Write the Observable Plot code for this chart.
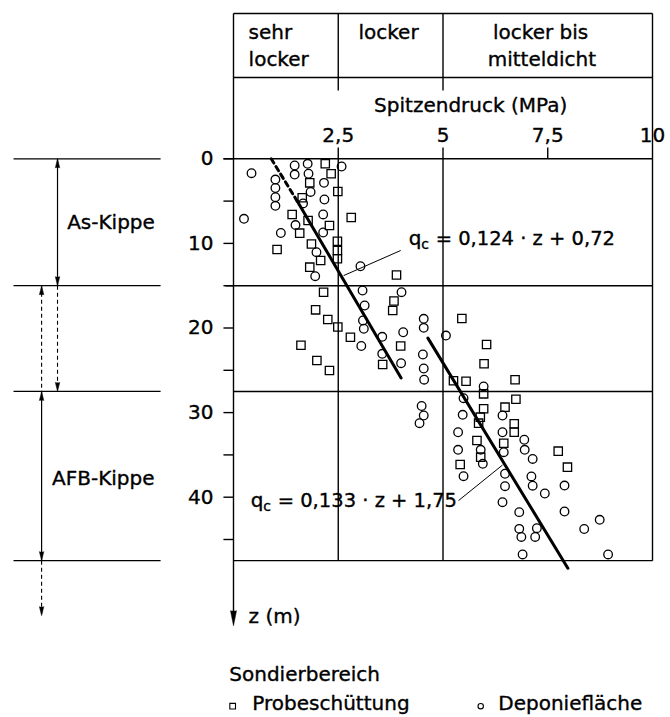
<!DOCTYPE html>
<html><head><meta charset="utf-8">
<script src="https://cdn.jsdelivr.net/npm/d3@7"></script>
<script src="https://cdn.jsdelivr.net/npm/@observablehq/plot@0.6"></script>
<style>body{margin:0;background:#fff}</style>
</head><body><div id="chart"></div>
<script>
// ---- data: q = Spitzendruck (MPa), z = Tiefe (m) ----
const probeschuettung = [
 [2.19,0.59],[2.33,1.77],[1.82,2.84],[2.49,3.87],[1.64,4.61],[1.40,6.58],[1.78,7.29],[2.29,7.88],[1.58,8.79],[2.81,6.94],
 [1.04,10.72],[1.86,10.07],[2.48,9.74],[2.48,10.84],[2.48,11.82],[2.08,12.02],[1.82,12.81],[3.89,13.74],[2.15,15.77],[3.83,16.81],
 [3.80,17.93],[1.96,17.85],[2.25,19.0],[2.49,19.88],[2.79,21.09],[1.61,22.04],[3.99,22.13],[1.99,23.84],[3.56,24.31],[2.29,25.02],
 [5.25,26.24],[5.55,26.29],[5.45,18.88],[6.04,21.95],[5.98,24.23],[5.97,27.78],[6.72,26.12],[6.74,28.42],[5.97,29.55],[6.48,29.36],
 [5.89,30.54],[5.85,31.25],[6.70,31.32],[6.70,32.32],[5.81,33.30],[6.45,33.62],[5.90,35.27],[5.41,36.13],[7.75,34.56],[7.97,36.45]
];
const deponieflaeche = [
 [0.43,1.70],[0.25,7.09],[1.0,2.45],[1.0,3.45],[1.0,4.54],[1.0,5.56],[1.46,0.79],[1.46,1.86],[1.77,0.59],[1.79,1.77],
 [1.84,3.92],[1.66,5.28],[2.16,2.84],[2.17,4.81],[2.14,6.58],[2.14,8.71],[1.48,7.83],[1.13,8.77],[2.58,0.91],[1.98,11.04],
 [1.95,13.88],[3.03,12.7],[3.08,15.57],[4.01,15.77],[3.13,17.34],[3.09,19.11],[3.11,20.09],[4.54,18.91],[4.54,19.98],[4.05,20.5],
 [3.55,21.04],[5.07,20.89],[3.05,22.13],[4.52,23.13],[3.55,23.05],[4.0,24.16],[4.54,24.79],[4.55,26.11],[4.49,29.22],[4.54,30.34],
 [4.44,31.25],[5.97,26.91],[5.49,28.3],[5.47,30.26],[6.42,30.34],[6.42,32.32],[5.36,32.32],[6.94,33.21],[6.95,34.4],[5.90,34.4],
 [5.36,34.4],[6.45,34.68],[7.14,35.48],[5.95,36.05],[5.49,37.52],[6.48,37.23],[7.11,37.55],[7.14,38.64],[7.90,38.62],[6.48,38.7],
 [7.43,39.56],[6.42,40.59],[7.90,41.69],[6.82,41.77],[6.82,43.74],[6.87,44.7],[7.24,43.66],[7.20,44.7],[8.37,43.76],[8.74,42.67],
 [6.90,46.77],[8.94,46.77]
];
// regression lines (q, z)
const fit1Dashed = [[0.90,0],[1.52,5.0]];
const fit1Solid = [[1.52,5.0],[4.00,25.9]];
const fit2Solid = [[4.64,21.2],[7.98,48.4]];
const fit1Label = "= 0,124 · z + 0,72";
const fit2Label = "= 0,133 · z + 1,75";
// density classes (header)
const classBounds = [0, 2.5, 5, 10];
const classLabels = [["sehr","locker"],["locker"],["locker bis","mitteldicht"]];
// axis ticks
const xTicks = [2.5, 5, 7.5, 10];
const xTickLabels = ["2,5","5","7,5","10"];
const yTicks = [0, 10, 20, 30, 40];
const yMinorTicks = [5, 15, 25, 35, 45];
// layers (left annotation)
const layerBounds = [0, 15, 27.5, 47.5];
const layerLabels = ["As-Kippe", "AFB-Kippe"];
const legendTitle = "Sondierbereich";
const seriesNames = ["Probeschüttung", "Deponiefläche"];

// ---- layout constants (in data units of the depth / pressure scales) ----
const HT = -17.18, HM = -9.61, HDIV = -8.07, TOPTICK = -1.34, ZEND = 55.2;
const FONT = "DejaVu Sans";
const TXT = {stroke:"black", strokeWidth:0.35, fill:"black"};

const sq = probeschuettung.map(([q,z]) => ({q, z}));
const ci = deponieflaeche.map(([q,z]) => ({q, z}));
const seg = (a, b) => ({x1:a[0], y1:a[1], x2:b[0], y2:b[1]});

const frame = [
  seg([0,HT],[10,HT]), seg([0,HM],[10,HM]),
  seg([2.5,HT],[2.5,HDIV]), seg([5,HT],[5,HDIV]),
  seg([10,HT],[10,layerBounds[3]]), seg([0,HT],[0,ZEND-1.2]),
  seg([2.5,TOPTICK],[2.5,layerBounds[3]]), seg([5,TOPTICK],[5,layerBounds[3]]),
  seg([7.5,TOPTICK],[7.5,0]),
  seg([-0.24,0],[10,0]), seg([-0.19,15],[10,15]), seg([0,27.5],[10,27.5]), seg([0,47.5],[10,47.5]),
  ...yTicks.concat(yMinorTicks).map(t => seg([-0.24,t],[0,t]))
];
const leftLines = layerBounds.map(b => seg([-5.25,b],[-1.74,b]));
const A1 = -4.20, A2 = -4.58;
const solidShafts = [seg([A1,0],[A1,15]), seg([A2,27.5],[A2,47.5])];
const dashedShafts = [seg([A1,15],[A1,27.5]), seg([A2,15],[A2,27.5]), seg([A2,47.5],[A2,54.0])];
const heads = [
  {q:A1,z:0,r:0},{q:A1,z:15,r:180},{q:A1,z:27.5,r:180},
  {q:A2,z:15,r:0},{q:A2,z:27.5,r:0},{q:A2,z:47.5,r:180},{q:A2,z:54.0,r:180}
];

const headerStart = [
  {q:0.36, z:-14.18, t:classLabels[0][0]},
  {q:0.36, z:-11.0, t:classLabels[0][1]}
];
const headerMiddle = [
  {q:(classBounds[1]+classBounds[2])/2 - 0.05, z:-14.18, t:classLabels[1][0]},
  {q:7.33, z:-14.18, t:classLabels[2][0]},
  {q:7.36, z:-11.0, t:classLabels[2][1]},
  {q:5.66, z:-5.51, t:"Spitzendruck (MPa)"},
  ...xTicks.map((v,i) => ({q:v, z:-1.96, t:xTickLabels[i]}))
];

const chart = Plot.plot({
  width: 670, height: 717,
  marginTop: 0, marginRight: 0, marginBottom: 0, marginLeft: 0,
  x: {domain: [0, 10], range: [233, 652], axis: null},
  y: {domain: [0, 40], range: [158.3, 496.7], axis: null},
  style: {fontFamily: FONT, fontSize: "20px", background: "white", color: "black", overflow: "visible"},
  marks: [
    Plot.link(frame, {x1:"x1", y1:"y1", x2:"x2", y2:"y2", stroke:"black", strokeWidth:1.4}),
    Plot.link(leftLines, {x1:"x1", y1:"y1", x2:"x2", y2:"y2", stroke:"black", strokeWidth:1.2}),
    Plot.link(solidShafts, {x1:"x1", y1:"y1", x2:"x2", y2:"y2", stroke:"black", strokeWidth:1.2}),
    Plot.link(dashedShafts, {x1:"x1", y1:"y1", x2:"x2", y2:"y2", stroke:"black", strokeWidth:1.1, strokeDasharray:"4,3"}),
    Plot.vector(heads, {x:"q", y:"z", rotate:"r", length:9, r:2.2, shape:"spike", anchor:"end", fill:"black", stroke:"black", strokeWidth:0.5}),
    Plot.vector([{q:0, z:ZEND}], {x:"q", y:"z", rotate:180, length:15, r:3, shape:"spike", anchor:"end", fill:"black", stroke:"black", strokeWidth:0.5}),
    // header & axis labels
    Plot.text(headerStart, {x:"q", y:"z", text:"t", textAnchor:"start", lineAnchor:"bottom", fontSize:20, ...TXT}),
    Plot.text(headerMiddle, {x:"q", y:"z", text:"t", textAnchor:"middle", lineAnchor:"bottom", fontSize:20, ...TXT}),
    Plot.text(yTicks, {x:0, y:d=>d, text:d=>String(d), dx:-20, textAnchor:"end", lineAnchor:"middle", fontSize:20, ...TXT}),
    Plot.text([{q:-3.97, z:8.27, t:layerLabels[0]}, {q:-4.33, z:38.6, t:layerLabels[1]}],
      {x:"q", y:"z", text:"t", textAnchor:"start", lineAnchor:"bottom", fontSize:20, ...TXT}),
    Plot.text([{q:0.36, z:54.9, t:"z (m)"}], {x:"q", y:"z", text:"t", textAnchor:"start", lineAnchor:"bottom", fontSize:20, ...TXT}),
    // data points
    Plot.dot(sq, {x:"q", y:"z", symbol:"square", r:4.7, stroke:"black", strokeWidth:1.3, fill:"none"}),
    Plot.dot(ci, {x:"q", y:"z", symbol:"circle", r:4.3, stroke:"black", strokeWidth:1.3, fill:"none"}),
    // regression lines
    Plot.line(fit1Dashed, {x:d=>d[0], y:d=>d[1], stroke:"black", strokeWidth:3, strokeDasharray:"5,4"}),
    Plot.line(fit1Solid, {x:d=>d[0], y:d=>d[1], stroke:"black", strokeWidth:3}),
    Plot.line(fit2Solid, {x:d=>d[0], y:d=>d[1], stroke:"black", strokeWidth:3}),
    // equations with leader lines
    Plot.link([seg([3.99,10.84],[2.63,13.8]), seg([5.37,40.4],[6.42,36.2])],
      {x1:"x1", y1:"y1", x2:"x2", y2:"y2", stroke:"black", strokeWidth:1}),
    Plot.text([{q:4.18, z:10.17}, {q:0.41, z:41.2}], {x:"q", y:"z", text:()=>"q", textAnchor:"start", lineAnchor:"bottom", fontSize:20, ...TXT}),
    Plot.text([{q:4.18, z:10.17}, {q:0.41, z:41.2}], {x:"q", y:"z", text:()=>"c", dx:12.5, dy:4, textAnchor:"start", lineAnchor:"bottom", fontSize:14, ...TXT}),
    Plot.text([{q:4.18, z:10.17, t:fit1Label}, {q:0.41, z:41.2, t:fit2Label}], {x:"q", y:"z", text:"t", dx:27, textAnchor:"start", lineAnchor:"bottom", fontSize:19.5, ...TXT}),
    // legend
    Plot.text([{q:-0.1, z:61.7, t:legendTitle}, {q:0.45, z:65.2, t:seriesNames[0]}, {q:6.32, z:65.2, t:seriesNames[1]}],
      {x:"q", y:"z", text:"t", textAnchor:"start", lineAnchor:"bottom", fontSize:20, ...TXT}),
    Plot.dot([{q:-0.02, z:64.7}], {x:"q", y:"z", symbol:"square", r:3.2, stroke:"black", strokeWidth:1.1, fill:"none"}),
    Plot.dot([{q:5.9, z:64.7}], {x:"q", y:"z", symbol:"circle", r:2.7, stroke:"black", strokeWidth:1.1, fill:"none"})
  ]
});
document.getElementById("chart").appendChild(chart);
</script>
</body></html>
